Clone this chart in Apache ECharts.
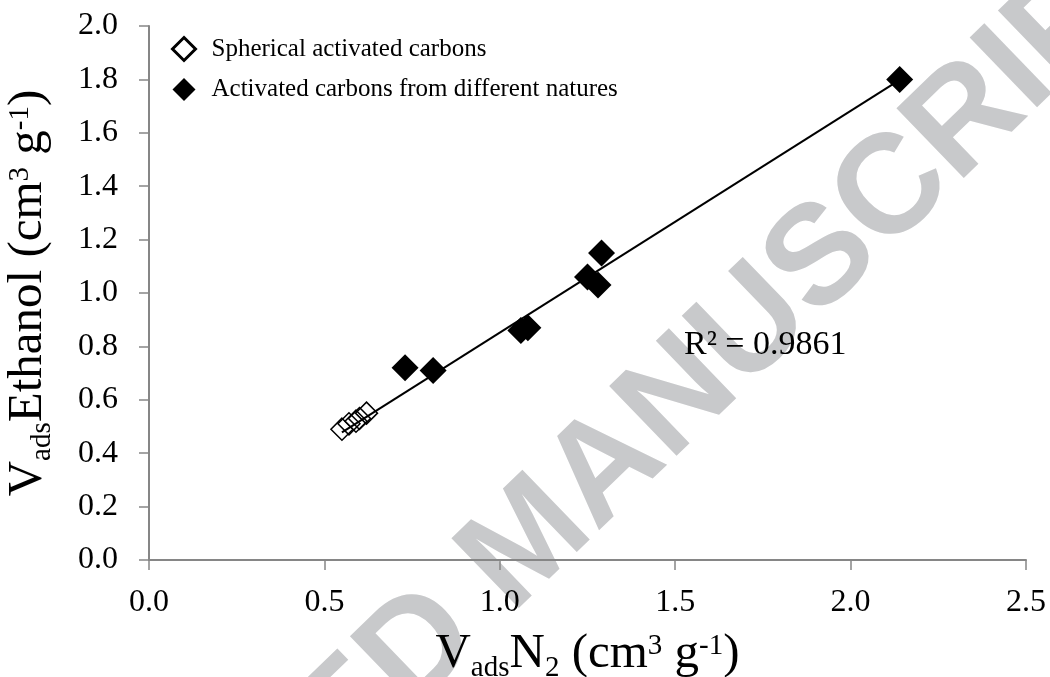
<!DOCTYPE html>
<html>
<head>
<meta charset="utf-8">
<script src="https://cdn.jsdelivr.net/npm/echarts@6/dist/echarts.min.js"></script>
<style>
  html, body { margin: 0; padding: 0; background: #ffffff; }
  #chart { width: 1050px; height: 677px; }
</style>
</head>
<body>
<div id="chart"></div>
<script>
// Adsorbed volumes (cm3 g-1): N2 on x, ethanol on y
const seriesNames = ['Spherical activated carbons', 'Activated carbons from different natures'];
const sphericalN2 = [0.55, 0.57, 0.59, 0.60, 0.62];
const sphericalEthanol = [0.49, 0.51, 0.52, 0.53, 0.55];
const variousN2 = [0.73, 0.81, 1.06, 1.08, 1.25, 1.28, 1.29, 2.14];
const variousEthanol = [0.72, 0.71, 0.86, 0.87, 1.06, 1.03, 1.15, 1.80];
// Linear trend line end points
const trendN2 = [0.55, 2.14];
const trendEthanol = [0.478, 1.798];
const rSquaredText = 'R\u00B2 = 0.9861';
const rSquaredAt = [1.525, 0.81];

const pairs = (xs, ys) => xs.map((x, i) => [x, ys[i]]);

const SERIF = "'Liberation Serif', 'Times New Roman', serif";
const AXIS_GREY = '#868686';

const titleRich = {
  n:   { fontSize: 49, fontFamily: SERIF, color: '#000' },
  sub: { fontSize: 29, fontFamily: SERIF, color: '#000', padding: [28, 0, 0, 0] },
  sup: { fontSize: 29, fontFamily: SERIF, color: '#000', padding: [0, 0, 16, 0] }
};

const chart = echarts.init(document.getElementById('chart'), null, { renderer: 'canvas' });

const option = {
  animation: false,
  backgroundColor: '#ffffff',
  textStyle: { fontFamily: SERIF },
  grid: { left: 149, right: 24, top: 26, bottom: 117, containLabel: false, outerBoundsMode: 'none' },
  legend: {
    orient: 'vertical',
    left: 166,
    top: 31,
    itemWidth: 23,
    itemHeight: 23,
    itemGap: 15,
    selectedMode: false,
    textStyle: { fontSize: 25, color: '#000', fontFamily: SERIF, padding: [0, 0, 0, 11] },
    data: [
      { name: seriesNames[0], icon: 'diamond', itemStyle: { color: 'rgba(255,255,255,0)', borderColor: '#000', borderWidth: 3 } },
      { name: seriesNames[1], icon: 'diamond' }
    ]
  },
  xAxis: {
    type: 'value',
    min: 0, max: 2.5, interval: 0.5,
    axisLine: { show: true, onZero: false, lineStyle: { color: AXIS_GREY, width: 2 } },
    axisTick: { show: true, inside: false, length: 10, lineStyle: { color: AXIS_GREY, width: 1.5 } },
    splitLine: { show: false },
    axisLabel: { color: '#000', fontSize: 32, fontFamily: SERIF, margin: 27, formatter: v => v.toFixed(1) },
    name: '{n|V}{sub|ads}{n|N}{sub|2}{n| (cm}{sup|3}{n| g}{sup|-1}{n|)}',
    nameLocation: 'middle',
    nameGap: 66,
    nameTextStyle: { rich: titleRich }
  },
  yAxis: {
    type: 'value',
    min: 0, max: 2, interval: 0.2,
    axisLine: { show: true, onZero: false, lineStyle: { color: AXIS_GREY, width: 2 } },
    axisTick: { show: true, inside: false, length: 10, lineStyle: { color: AXIS_GREY, width: 1.5 } },
    splitLine: { show: false },
    axisLabel: { color: '#000', fontSize: 32, fontFamily: SERIF, margin: 31, formatter: v => v.toFixed(1) },
    name: '{n|V}{sub|ads}{n|Ethanol (cm}{sup|3}{n| g}{sup|-1}{n|)}',
    nameLocation: 'middle',
    nameGap: 92,
    nameTextStyle: { rich: titleRich }
  },
  series: [
    {
      name: seriesNames[0],
      type: 'scatter',
      symbol: 'diamond',
      symbolSize: 22,
      itemStyle: { color: 'rgba(255,255,255,0)', borderColor: '#000', borderWidth: 1.5, opacity: 1 },
      data: pairs(sphericalN2, sphericalEthanol),
      z: 3
    },
    {
      name: seriesNames[1],
      type: 'scatter',
      symbol: 'diamond',
      symbolSize: 27,
      itemStyle: { color: '#000', opacity: 1 },
      data: pairs(variousN2, variousEthanol),
      z: 3
    },
    {
      name: 'trend',
      type: 'line',
      showSymbol: false,
      symbol: 'none',
      silent: true,
      lineStyle: { color: '#000', width: 2 },
      data: pairs(trendN2, trendEthanol),
      z: 4
    }
  ]
};

chart.setOption(option);

// R² annotation and the grey diagonal watermark behind the chart
const rPos = chart.convertToPixel({ gridIndex: 0 }, rSquaredAt);
chart.setOption({
  graphic: [
    {
      type: 'text',
      left: rPos[0],
      top: rPos[1] - 16,
      z: 110,
      style: { text: rSquaredText, font: "34px 'Liberation Serif', 'Times New Roman', serif", fill: '#000' }
    },
    {
      type: 'text',
      x: 530,
      y: 543,
      rotation: 44 * Math.PI / 180,
      z: -1,
      silent: true,
      style: {
        text: 'ACCEPTED MANUSCRIPT',
        font: "bold 141px 'Liberation Sans', Arial, sans-serif",
        fill: '#c8c9cb',
        align: 'center',
        verticalAlign: 'middle',
        textAlign: 'center',
        textVerticalAlign: 'middle'
      }
    }
  ]
});
</script>
</body>
</html>
